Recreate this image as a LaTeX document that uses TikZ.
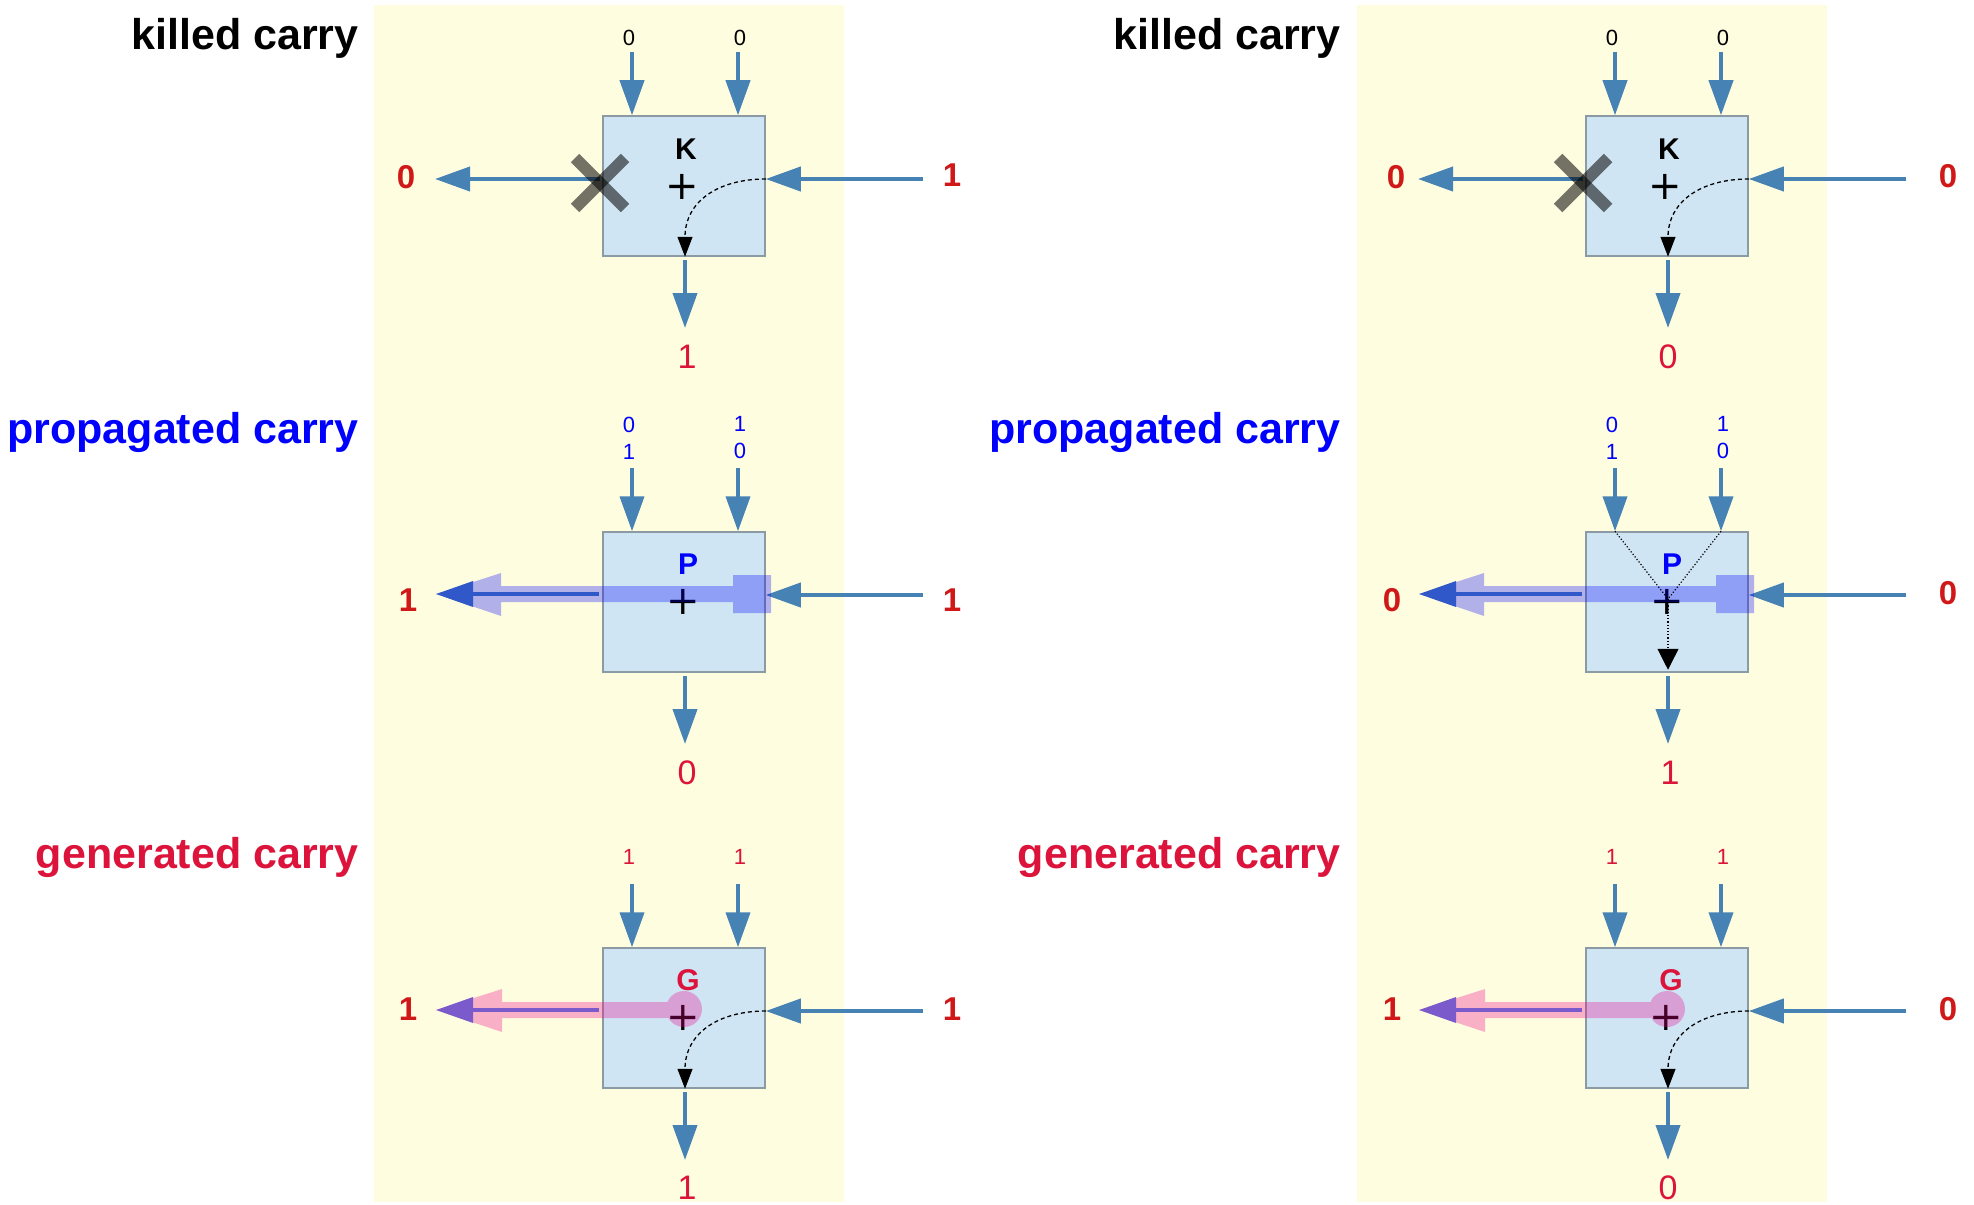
\documentclass[tikz,border=0pt]{standalone}
\usepackage{fontspec}
\setmainfont{Liberation Sans}
\newfontfamily\plusfont{DejaVu Sans}
\usetikzlibrary{arrows.meta}
\definecolor{bgyellow}{HTML}{FFFDE0}
\definecolor{boxfill}{HTML}{CFE5F3}
\definecolor{boxline}{HTML}{8C9AA4}
\definecolor{steel}{HTML}{4682B4}
\definecolor{sidered}{HTML}{D01818}
\definecolor{crim}{HTML}{DC143C}
\definecolor{darkblueA}{HTML}{3058C8}
\definecolor{darkvioletA}{HTML}{7B5BCC}
\newcommand\cellcore{%
  \node[cellbox] (box) at (684,186) {};
  \coordinate (ta) at (632,52);
  \coordinate (tb) at (738,52);
  \coordinate (rin) at (923,179);
  \coordinate (lout) at (435,179);
  \coordinate (dout) at (436,178);
  \coordinate (bo) at (685,328);
  \draw[flow] (ta) -- (ta |- box.north);
  \draw[flow] (tb) -- (tb |- box.north);
  \draw[flow] (rin) -- (rin -| box.east);
  \draw[flow, shorten <=1.5pt] (bo |- box.south) -- (bo);
}
\begin{document}
\begin{tikzpicture}[x=0.5pt,y=-0.5pt,
  flow/.style={draw=steel, line width=2pt, -{Triangle[length=17.5pt,width=12pt]}},
  darkflow/.style={line width=1.75pt, -{Triangle[length=18.5pt,width=12.5pt]}},
  cellbox/.style={draw=boxline, fill=boxfill, line width=0.75pt, minimum width=81pt, minimum height=70pt, inner sep=0pt},
  title/.style={font=\fontsize{21.5}{24}\selectfont\bfseries, anchor=base east, inner sep=0pt},
  sidelab/.style={font=\fontsize{16.5}{19}\selectfont\bfseries, text=sidered, inner sep=0pt},
  botlab/.style={font=\fontsize{17}{20}\selectfont, text=crim, inner sep=0pt},
  toplab/.style={font=\fontsize{11}{13.5}\selectfont, inner sep=0pt, align=center},
  letter/.style={font=\fontsize{15}{16}\selectfont\bfseries, inner sep=0pt},
  plus/.style={font=\plusfont\fontsize{20}{20}\selectfont, inner sep=0pt},
  hint/.style={black, line width=0.65pt, dash pattern=on 2pt off 1.5pt, -{Triangle[length=10pt,width=7.5pt]}},
  dotline/.style={black, line width=0.6pt, densely dotted},
  crossbar/.style={draw=black, draw opacity=0.55, line width=6pt},
]
\useasboundingbox (0,0) rectangle (1974,1204);
\fill[bgyellow] (374,5) rectangle (844,1202);
\fill[bgyellow] (1357,5) rectangle (1827,1202);

% titles
\node[title] (t1) at (359,50) {killed carry};
\node[title,text=blue] (t2) at (359,443) {propagated carry};
\node[title,text=crim] (t3) at (359,868) {generated carry};
\node[title] (t4) at (1341,50) {killed carry};
\node[title,text=blue] (t5) at (1341,443) {propagated carry};
\node[title,text=crim] (t6) at (1341,868) {generated carry};

% ---------- K left
\begin{scope}[name prefix=kl-]
\cellcore
\node[toplab] (la) at (629,38) {0};
\node[toplab] (lb) at (740,38) {0};
\node[letter] (let) at (686,149) {K};
\node[plus] (pl) at (682,187) {+};
\coordinate (xc) at (600,183);
\coordinate (lst) at (600,179);
\draw[flow] (lst) -- (lout);
\draw[crossbar] (xc) ++(-25,-25) -- ++(50,50);
\draw[crossbar] (xc) ++(-25,25) -- ++(50,-50);
\draw[hint] (rin -| box.east) .. controls +(-48,0) and +(0,-55) .. (bo |- box.south);
\node[sidelab] (L) at (406,177) {0};
\node[sidelab] (R) at (952,175) {1};
\node[botlab] (B) at (687,357) {1};
\end{scope}

% ---------- K right
\begin{scope}[shift={(983,0)}, name prefix=kr-]
\cellcore
\node[toplab] (la) at (629,38) {0};
\node[toplab] (lb) at (740,38) {0};
\node[letter] (let) at (686,149) {K};
\node[plus] (pl) at (682,187) {+};
\coordinate (xc) at (600,183);
\coordinate (lst) at (600,179);
\draw[flow] (lst) -- (lout);
\draw[crossbar] (xc) ++(-25,-25) -- ++(50,50);
\draw[crossbar] (xc) ++(-25,25) -- ++(50,-50);
\draw[hint] (rin -| box.east) .. controls +(-48,0) and +(0,-55) .. (bo |- box.south);
\node[sidelab] (L) at (413,177) {0};
\node[sidelab] (R) at (965,176) {0};
\node[botlab] (B) at (685,357) {0};
\end{scope}

% ---------- P left
\begin{scope}[shift={(0,416)}, name prefix=pl-]
\cellcore
\node[toplab,text=blue] (la) at (629,22) {0\\1};
\node[toplab,text=blue] (lb) at (740,22) {1\\0};
\node[plus] (pl) at (683,186) {+};
\fill[blue, fill opacity=0.3] (436,178) -- (501,157) -- (501,170) -- (733,170) -- (733,159) -- (771,159) -- (771,197) -- (733,197) -- (733,186) -- (501,186) -- (501,200) -- cycle;
\coordinate (lst) at (599,178);
\draw[darkflow, darkblueA] (lst) -- (dout);
\node[letter,text=blue] (let) at (688,148) {P};
\node[sidelab] (L) at (408,184) {1};
\node[sidelab] (R) at (952,184) {1};
\node[botlab] (B) at (687,357) {0};
\end{scope}

% ---------- P right
\begin{scope}[shift={(983,416)}, name prefix=pr-]
\cellcore
\node[toplab,text=blue] (la) at (629,22) {0\\1};
\node[toplab,text=blue] (lb) at (740,22) {1\\0};
\node[plus] (pl) at (684,186) {+};
\fill[blue, fill opacity=0.3] (436,178) -- (501,157) -- (501,170) -- (733,170) -- (733,159) -- (771,159) -- (771,197) -- (733,197) -- (733,186) -- (501,186) -- (501,200) -- cycle;
\coordinate (lst) at (599,178);
\draw[darkflow, darkblueA] (lst) -- (dout);
\coordinate (pc) at (685,183);
\draw[dotline] (ta |- box.north) -- (pc);
\draw[dotline] (tb |- box.north) -- (pc);
\draw[dotline, -{Triangle[length=10.5pt,width=10.5pt]}] (pc) -- ([yshift=1.5pt]pc |- box.south);
\node[letter,text=blue] (let) at (689,148) {P};
\node[sidelab] (L) at (409,184) {0};
\node[sidelab] (R) at (965,177) {0};
\node[botlab] (B) at (687,357) {1};
\end{scope}

% ---------- G left
\begin{scope}[shift={(0,832)}, name prefix=gl-]
\cellcore
\node[toplab,text=crim] (la) at (629,25) {1};
\node[toplab,text=crim] (lb) at (740,25) {1};
\node[plus] (pl) at (683,186) {+};
\fill[magenta, fill opacity=0.3] (436,178) -- (502,157) -- (502,170) -- (667.4,170) arc[start angle=202.9, end angle=510, radius=18] -- (502,186) -- (502,200) -- cycle;
\coordinate (lst) at (599,178);
\draw[darkflow, darkvioletA] (lst) -- (dout);
\draw[hint] (rin -| box.east) .. controls +(-48,0) and +(0,-55) .. (bo |- box.south);
\node[letter,text=crim] (let) at (688,148) {G};
\node[sidelab] (L) at (408,177) {1};
\node[sidelab] (R) at (952,177) {1};
\node[botlab] (B) at (687,356) {1};
\end{scope}

% ---------- G right
\begin{scope}[shift={(983,832)}, name prefix=gr-]
\cellcore
\node[toplab,text=crim] (la) at (629,25) {1};
\node[toplab,text=crim] (lb) at (740,25) {1};
\node[plus] (pl) at (683,186) {+};
\fill[magenta, fill opacity=0.3] (436,178) -- (502,157) -- (502,170) -- (667.4,170) arc[start angle=202.9, end angle=510, radius=18] -- (502,186) -- (502,200) -- cycle;
\coordinate (lst) at (599,178);
\draw[darkflow, darkvioletA] (lst) -- (dout);
\draw[hint] (rin -| box.east) .. controls +(-48,0) and +(0,-55) .. (bo |- box.south);
\node[letter,text=crim] (let) at (688,148) {G};
\node[sidelab] (L) at (409,177) {1};
\node[sidelab] (R) at (965,177) {0};
\node[botlab] (B) at (685,356) {0};
\end{scope}
\end{tikzpicture}
\end{document}
